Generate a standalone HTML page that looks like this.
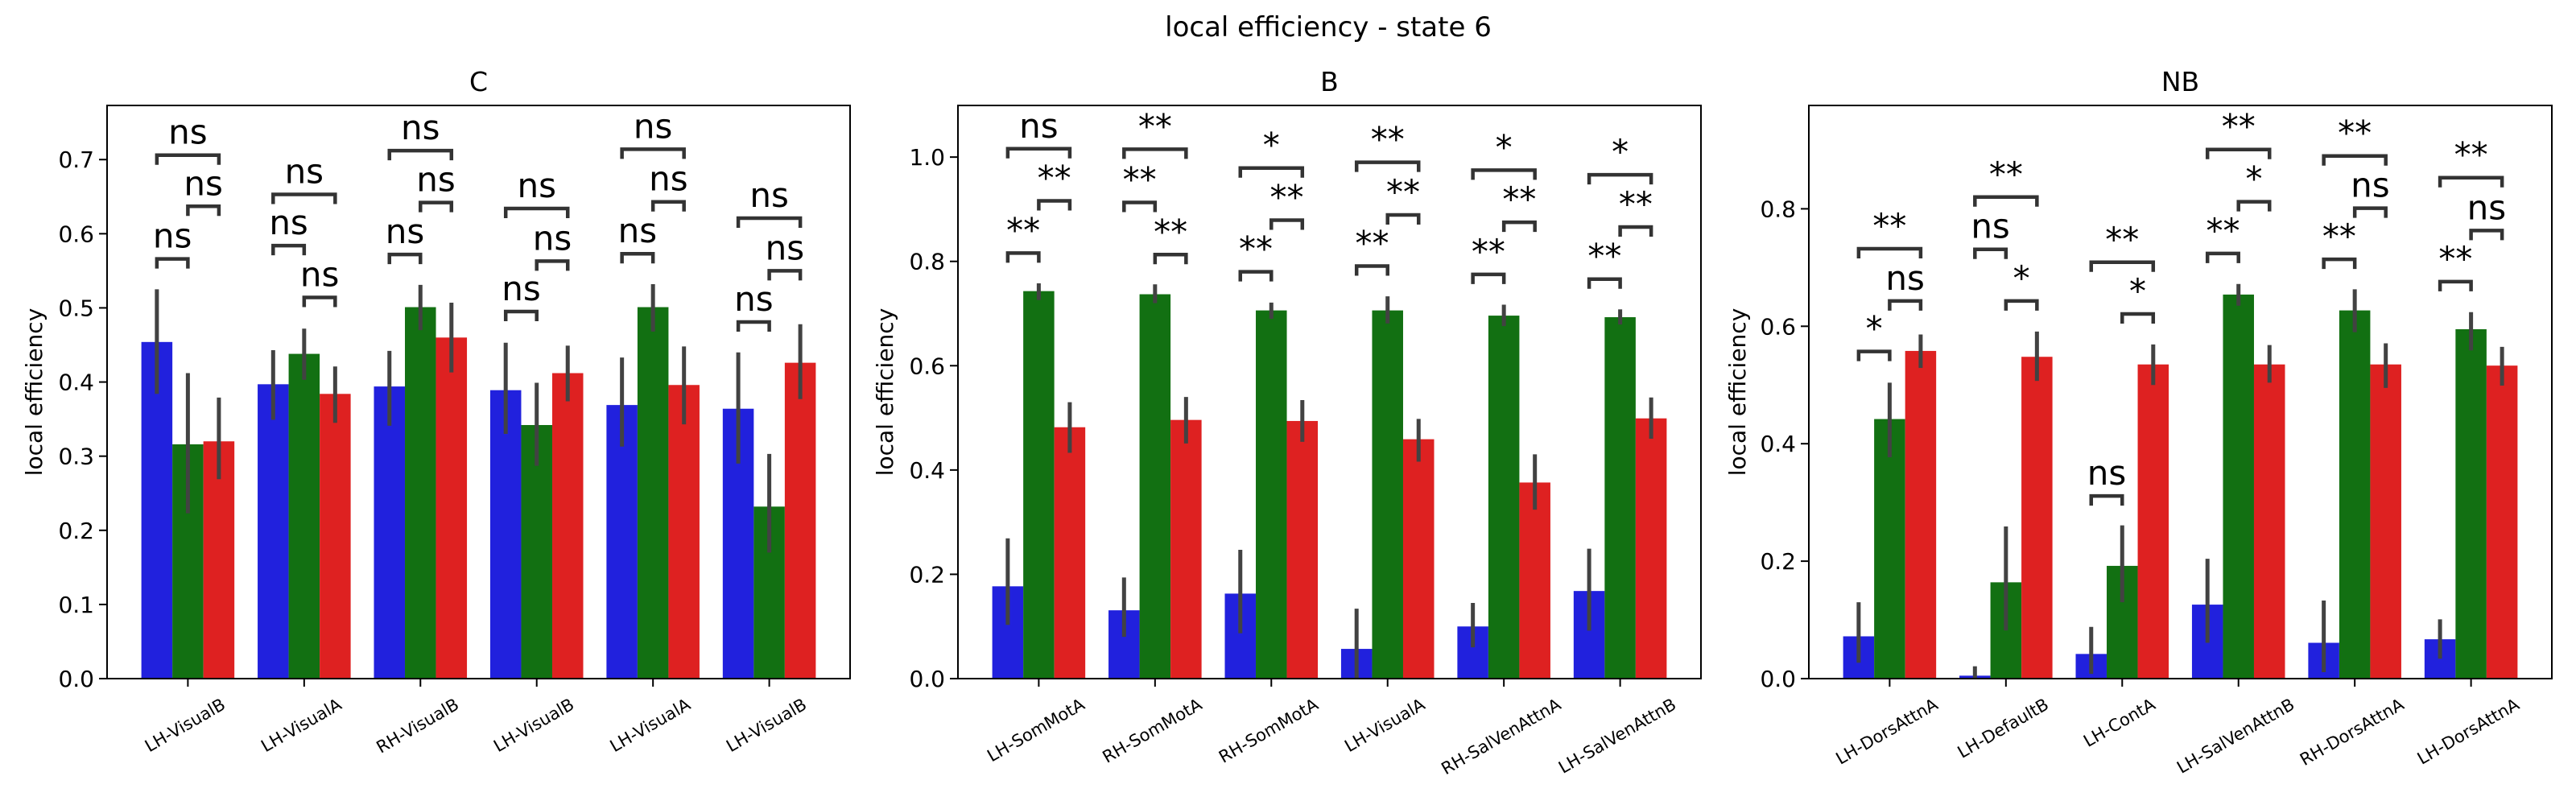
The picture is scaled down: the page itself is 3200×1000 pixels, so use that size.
<!DOCTYPE html>
<html><head><meta charset="utf-8"><style>
html,body{margin:0;padding:0;background:#fff;}
svg{display:block;font-family:"DejaVu Sans","Liberation Sans",sans-serif;}
</style></head><body>
<svg id="chart" width="3200" height="1000" viewBox="0 0 3200 1000" xmlns="http://www.w3.org/2000/svg">
<text x="1650" y="45" font-size="34" text-anchor="middle" fill="#000">local efficiency - state 6</text>
</svg>
<script>
// ---- data ----
const panelTitles = ["C", "B", "NB"];
const categoriesC = ["LH-VisualB","LH-VisualA","RH-VisualB","LH-VisualB","LH-VisualA","LH-VisualB"];
const categoriesB = ["LH-SomMotA","RH-SomMotA","RH-SomMotA","LH-VisualA","RH-SalVenAttnA","LH-SalVenAttnB"];
const categoriesNB = ["LH-DorsAttnA","LH-DefaultB","LH-ContA","LH-SalVenAttnB","RH-DorsAttnA","LH-DorsAttnA"];

const blueC  = [0.454,0.397,0.394,0.389,0.369,0.364];
const greenC = [0.316,0.438,0.501,0.342,0.501,0.232];
const redC   = [0.320,0.384,0.460,0.412,0.396,0.426];
const blueLoC  = [0.384,0.349,0.341,0.330,0.313,0.290];
const blueHiC  = [0.525,0.443,0.442,0.453,0.433,0.440];
const greenLoC = [0.223,0.403,0.470,0.287,0.468,0.170];
const greenHiC = [0.412,0.472,0.531,0.399,0.532,0.303];
const redLoC   = [0.269,0.345,0.413,0.374,0.343,0.377];
const redHiC   = [0.379,0.421,0.507,0.449,0.448,0.478];

const blueB  = [0.177,0.131,0.163,0.057,0.100,0.168];
const greenB = [0.743,0.737,0.706,0.706,0.696,0.693];
const redB   = [0.482,0.496,0.494,0.459,0.376,0.499];
const blueLoB  = [0.103,0.080,0.087,0.000,0.060,0.092];
const blueHiB  = [0.269,0.194,0.247,0.134,0.145,0.249];
const greenLoB = [0.726,0.720,0.690,0.681,0.676,0.679];
const greenHiB = [0.758,0.756,0.721,0.733,0.717,0.708];
const redLoB   = [0.433,0.451,0.454,0.416,0.324,0.460];
const redHiB   = [0.530,0.540,0.534,0.498,0.430,0.539];

const blueNB  = [0.072,0.005,0.042,0.126,0.061,0.067];
const greenNB = [0.442,0.164,0.192,0.654,0.627,0.595];
const redNB   = [0.558,0.548,0.535,0.535,0.535,0.533];
const blueLoNB  = [0.027,0.000,0.008,0.061,0.011,0.034];
const blueHiNB  = [0.130,0.021,0.088,0.204,0.133,0.101];
const greenLoNB = [0.377,0.082,0.130,0.635,0.590,0.559];
const greenHiNB = [0.504,0.259,0.261,0.672,0.663,0.624];
const redLoNB   = [0.529,0.507,0.500,0.504,0.495,0.499];
const redHiNB   = [0.586,0.591,0.569,0.568,0.571,0.565];

// significance brackets: blue-green, green-red, blue-red
const bgYC = [0.566,0.584,0.572,0.495,0.573,0.481];
const grYC = [0.637,0.514,0.642,0.563,0.643,0.550];
const brYC = [0.706,0.653,0.712,0.634,0.714,0.621];
const bgTC = ["ns","ns","ns","ns","ns","ns"];
const grTC = ["ns","ns","ns","ns","ns","ns"];
const brTC = ["ns","ns","ns","ns","ns","ns"];

const bgYB = [0.816,0.913,0.780,0.791,0.775,0.766];
const grYB = [0.916,0.813,0.879,0.889,0.875,0.866];
const brYB = [1.016,1.015,0.979,0.990,0.975,0.966];
const bgTB = ["**","**","**","**","**","**"];
const grTB = ["**","**","**","**","**","**"];
const brTB = ["ns","**","*","**","*","*"];

const bgYNB = [0.557,0.731,0.311,0.724,0.714,0.676];
const grYNB = [0.643,0.643,0.621,0.812,0.801,0.763];
const brYNB = [0.732,0.820,0.709,0.901,0.890,0.853];
const bgTNB = ["*","ns","ns","**","**","**"];
const grTNB = ["ns","*","*","*","ns","ns"];
const brTNB = ["**","**","**","**","**","**"];

const ticksC = [0.0,0.1,0.2,0.3,0.4,0.5,0.6,0.7];
const ticksB = [0.0,0.2,0.4,0.6,0.8,1.0];
const ticksNB = [0.0,0.2,0.4,0.6,0.8];
const tickLabelsC = ["0.0","0.1","0.2","0.3","0.4","0.5","0.6","0.7"];
const tickLabelsB = ["0.0","0.2","0.4","0.6","0.8","1.0"];
const tickLabelsNB = ["0.0","0.2","0.4","0.6","0.8"];
const yMaxC = 0.773, yMaxB = 1.099, yMaxNB = 0.976;

// ---- drawing ----
const NS = "http://www.w3.org/2000/svg";
const svg = document.getElementById("chart");
function mk(tag, attrs, parent){
  const e = document.createElementNS(NS, tag);
  for (const k in attrs) e.setAttribute(k, attrs[k]);
  (parent||svg).appendChild(e);
  return e;
}
const COLORS = ["#2121dd","#127012","#de2121"];
const SERIES = ["blue","green","red"];

function drawPanel(p){
  const g = mk("g", {});
  
  
  const L = p.left, R = p.left + 923, T = 131, B = 843;
  const xs = v => L + (v + 0.695) / 6.39 * (R - L);
  const ys = v => B - v / p.yMax * (B - T);
  const bw = (0.8/3) / 6.39 * (R - L);
  for (let i = 0; i < 6; i++) {
    const vals = [p.blue[i], p.green[i], p.red[i]];
    for (let s = 0; s < 3; s++) {
      const cx = xs(i + (s - 1) * 0.8/3);
      const r = mk("rect", {x: cx - bw/2, y: ys(vals[s]), width: bw, height: ys(0) - ys(vals[s]), fill: COLORS[s]}, g);
      
      
    }
  }
  const lo = [p.blueLo, p.greenLo, p.redLo], hi = [p.blueHi, p.greenHi, p.redHi];
  for (let i = 0; i < 6; i++) for (let s = 0; s < 3; s++) {
    const cx = xs(i + (s - 1) * 0.8/3);
    const e = mk("line", {x1: cx, x2: cx, y1: ys(lo[s][i]), y2: ys(hi[s][i]), stroke: "#424242", "stroke-width": 5}, g);
    
    
  }
  const pairs = [[0,1,p.bgY,p.bgT],[1,2,p.grY,p.grT],[0,2,p.brY,p.brT]];
  for (let i = 0; i < 6; i++) for (const [a,b,yv,tv] of pairs) {
    const x1 = xs(i + (a - 1) * 0.8/3), x2 = xs(i + (b - 1) * 0.8/3), y = ys(yv[i]);
    const br = mk("path", {d: `M${x1},${y+12} L${x1},${y} L${x2},${y} L${x2},${y+12}`, fill: "none", stroke: "#333", "stroke-width": 4.5}, g);
    
    
    const t = mk("text", {x: (x1+x2)/2, y: y - 14, "font-size": 42, "text-anchor": "middle", fill: "#000"}, g);
    t.textContent = tv[i];
    
    
  }
  const fr = mk("rect", {x: L, y: T, width: R - L, height: B - T, fill: "none", stroke: "#000", "stroke-width": 2}, g);
  
  
  for (let k = 0; k < p.ticks.length; k++) {
    const y = ys(p.ticks[k]);
    mk("line", {x1: L - 10, x2: L, y1: y, y2: y, stroke: "#000", "stroke-width": 2}, g);
    const t = mk("text", {x: L - 16, y: y + 10, "font-size": 28, "text-anchor": "end", fill: "#000"}, g);
    t.textContent = p.tickLabels[k];
    
    
  }
  for (let i = 0; i < 6; i++) {
    const x = xs(i);
    mk("line", {x1: x, x2: x, y1: B, y2: B + 10, stroke: "#000", "stroke-width": 2}, g);
    const t = mk("text", {x: 0, y: 0, "font-size": 21, "text-anchor": "middle", "dominant-baseline": "middle", fill: "#000"}, g);
    t.textContent = p.cats[i];
    
    
    let w = 110;
    try { w = t.getComputedTextLength() || w; } catch(e) {}
    const cy = B + 22 + (w * 0.5 + 21 * 0.866) / 2;
    t.setAttribute('transform', `translate(${x - 3},${cy}) rotate(-30)`);
  }
  const yl = mk("text", {x: 0, y: 0, "font-size": 28, "text-anchor": "middle", fill: "#000",
    transform: `translate(${p.ylx},${(T+B)/2}) rotate(-90)`}, g);
  yl.textContent = "local efficiency";
  
  
  const ti = mk("text", {x: (L+R)/2, y: 113, "font-size": 33, "text-anchor": "middle", fill: "#000"}, g);
  ti.textContent = p.title;
  
  
}

drawPanel({title: panelTitles[0], left: 133, yMax: yMaxC, ylx: 52, cats: categoriesC,
  blue: blueC, green: greenC, red: redC, blueLo: blueLoC, blueHi: blueHiC, greenLo: greenLoC, greenHi: greenHiC, redLo: redLoC, redHi: redHiC,
  bgY: bgYC, grY: grYC, brY: brYC, bgT: bgTC, grT: grTC, brT: brTC, ticks: ticksC, tickLabels: tickLabelsC});
drawPanel({title: panelTitles[1], left: 1190, yMax: yMaxB, ylx: 1109, cats: categoriesB,
  blue: blueB, green: greenB, red: redB, blueLo: blueLoB, blueHi: blueHiB, greenLo: greenLoB, greenHi: greenHiB, redLo: redLoB, redHi: redHiB,
  bgY: bgYB, grY: grYB, brY: brYB, bgT: bgTB, grT: grTB, brT: brTB, ticks: ticksB, tickLabels: tickLabelsB});
drawPanel({title: panelTitles[2], left: 2247, yMax: yMaxNB, ylx: 2168, cats: categoriesNB,
  blue: blueNB, green: greenNB, red: redNB, blueLo: blueLoNB, blueHi: blueHiNB, greenLo: greenLoNB, greenHi: greenHiNB, redLo: redLoNB, redHi: redHiNB,
  bgY: bgYNB, grY: grYNB, brY: brYNB, bgT: bgTNB, grT: grTNB, brT: brTNB, ticks: ticksNB, tickLabels: tickLabelsNB});
</script>
</body></html>
